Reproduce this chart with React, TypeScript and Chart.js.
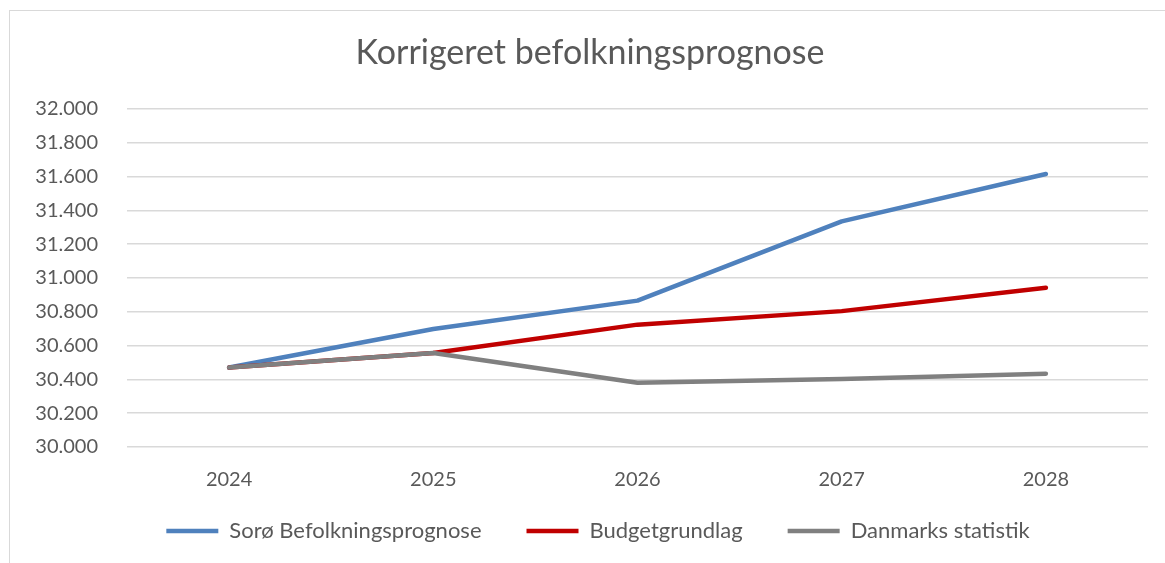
import React, { useEffect, useRef } from 'react';
import { Chart, registerables } from 'chart.js';

Chart.register(...registerables);

const chartTitle = 'Korrigeret befolkningsprognose';
const years = ['2024', '2025', '2026', '2027', '2028'];
const seriesNames = ['Sorø Befolkningsprognose', 'Budgetgrundlag', 'Danmarks statistik'];
const soroPrognose = [30470, 30698, 30866, 31335, 31615];
const budgetgrundlag = [30470, 30556, 30724, 30804, 30942];
const danmarksStatistik = [30470, 30556, 30380, 30402, 30434];
const seriesColors = ['#4f81bd', '#c00000', '#808080'];
const yMin = 30000;
const yMax = 32000;
const yStep = 200;

const fmtThousands = (v: number) => {
  const t = Math.floor(v / 1000);
  const r = Math.round(v % 1000);
  return `${t}.${String(r).padStart(3, '0')}`;
};

export default function App() {
  const ref = useRef<HTMLCanvasElement>(null);
  useEffect(() => {
    const FONT = "Lato, 'Liberation Sans', sans-serif";
    const TXT = '#595959';
    const LEGEND_HEIGHT = 70;
    const LEGEND_SHIFT_Y = -18;
    const LEGEND_SHIFT_X = 8;
    const mk = (i: number, data: number[], order: number) => ({
      label: seriesNames[i],
      data,
      borderColor: seriesColors[i],
      backgroundColor: seriesColors[i],
      borderWidth: 4.5,
      borderCapStyle: 'round' as const,
      borderJoinStyle: 'round' as const,
      pointStyle: 'line' as const,
      pointRadius: 0,
      pointHoverRadius: 0,
      tension: 0,
      order,
    });
    const legendTweak = {
      id: 'legendTweak',
      beforeLayout(chart: any) {
        const lg = chart.legend;
        if (lg && !lg.__patched) {
          const orig = lg.fit;
          lg.fit = function (this: any) {
            orig.call(this);
            this.height = LEGEND_HEIGHT;
          };
          lg.__patched = true;
        }
      },
      afterLayout(chart: any) {
        const lg = chart.legend;
        if (lg) {
          lg.top += LEGEND_SHIFT_Y;
          lg.bottom += LEGEND_SHIFT_Y;
          lg.left += LEGEND_SHIFT_X;
          lg.right += LEGEND_SHIFT_X;
        }
      },
    };
    const chart = new Chart(ref.current!, {
      type: 'line',
      data: {
        labels: years,
        datasets: [mk(0, soroPrognose, 2), mk(1, budgetgrundlag, 1), mk(2, danmarksStatistik, 0)],
      },
      plugins: [legendTweak],
      options: {
        animation: false,
        responsive: false,
        maintainAspectRatio: false,
        events: [],
        layout: { padding: { left: 22, right: 32, top: 0, bottom: 0 } },
        plugins: {
          title: {
            display: true,
            text: chartTitle,
            color: TXT,
            font: { family: FONT, size: 34, weight: 'normal' },
            padding: { top: 22, bottom: 35.2 },
          },
          legend: {
            position: 'bottom',
            labels: {
              color: TXT,
              font: { family: FONT, size: 22 },
              usePointStyle: true,
              pointStyleWidth: 52,
              padding: 45,
              sort: (a: any, b: any) => a.datasetIndex - b.datasetIndex,
            },
          },
          tooltip: { enabled: false },
        },
        scales: {
          x: {
            offset: true,
            grid: { display: false, drawTicks: false },
            border: { display: false },
            ticks: { color: TXT, font: { family: FONT, size: 20 }, padding: 21 },
            afterFit: (s: any) => {
              s.height = 46;
            },
          },
          y: {
            min: yMin,
            max: yMax,
            grid: { color: '#d9d9d9', lineWidth: 1.5, drawTicks: false },
            border: { display: false },
            ticks: {
              stepSize: yStep,
              color: TXT,
              font: { family: FONT, size: 20 },
              padding: 29,
              callback: (v: any) => fmtThousands(Number(v)),
            },
            afterFit: (s: any) => {
              s.width = 95;
            },
          },
        },
      },
    } as any);
    return () => chart.destroy();
  }, []);
  return (
    <div style={{ position: 'absolute', left: 0, top: 0, width: 1165, height: 563, overflow: 'hidden', background: '#fff' }}>
      <div style={{ position: 'absolute', left: 9, top: 10, width: 1170, height: 560, border: '1px solid #d9d9d9' }}>
        <canvas ref={ref} width={1170} height={552} style={{ display: 'block', width: 1170, height: 552 }} />
      </div>
    </div>
  );
}
